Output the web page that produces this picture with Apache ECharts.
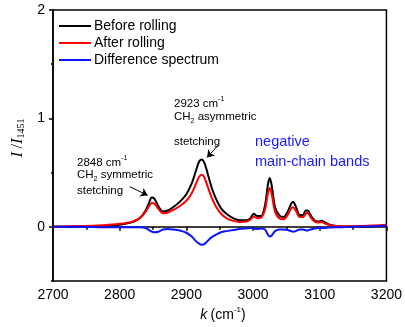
<!DOCTYPE html>
<html>
<head>
<meta charset="utf-8">
<script src="https://cdn.jsdelivr.net/npm/echarts@6/dist/echarts.min.js"></script>
<style>
  html, body { margin: 0; padding: 0; background: #fff; }
  #chart { width: 405px; height: 327px; }
</style>
</head>
<body>
<div id="chart"></div>
<script>
// wavenumber positions (cm-1)
const k = [2700, 2720, 2740, 2760, 2780, 2800, 2810, 2820, 2830, 2838, 2844, 2848, 2852, 2858, 2865, 2872, 2880, 2890, 2900, 2908,
  2914, 2919, 2923, 2927, 2932, 2938, 2945, 2952, 2960, 2970, 2980, 2990, 2996, 3001, 3006, 3012, 3018, 3022, 3025, 3028,
  3033, 3040, 3046, 3052, 3057, 3060, 3064, 3070, 3075, 3079, 3082, 3086, 3092, 3098, 3103, 3108, 3115, 3125, 3140, 3160,
  3180, 3200];

const beforeRolling = [0, 0, 0.003, 0.005, 0.01, 0.02, 0.03, 0.045, 0.08, 0.14, 0.22, 0.27, 0.26, 0.19, 0.14, 0.15, 0.18, 0.23, 0.3, 0.4,
  0.51, 0.6, 0.62, 0.59, 0.49, 0.36, 0.25, 0.17, 0.12, 0.08, 0.06, 0.06, 0.08, 0.12, 0.1, 0.1, 0.2, 0.38, 0.45, 0.38,
  0.18, 0.1, 0.09, 0.14, 0.21, 0.23, 0.19, 0.11, 0.11, 0.15, 0.15, 0.11, 0.06, 0.05, 0.055, 0.04, 0.02, 0.008, 0.003, 0.003,
  0.005, 0.008];

const afterRolling = [0.002, 0.004, 0.007, 0.01, 0.016, 0.028, 0.036, 0.05, 0.08, 0.13, 0.19, 0.22, 0.215, 0.165, 0.125, 0.13, 0.155, 0.19, 0.24, 0.31,
  0.39, 0.46, 0.48, 0.455, 0.37, 0.27, 0.18, 0.12, 0.08, 0.055, 0.045, 0.048, 0.065, 0.095, 0.08, 0.085, 0.16, 0.3, 0.36, 0.3,
  0.14, 0.075, 0.07, 0.11, 0.17, 0.18, 0.15, 0.09, 0.09, 0.12, 0.13, 0.09, 0.05, 0.04, 0.045, 0.03, 0.015, 0.008, 0.005, 0.007,
  0.012, 0.018];

const difference = [0, 0, 0, -0.002, -0.004, -0.005, -0.005, -0.004, -0.004, -0.01, -0.03, -0.045, -0.05, -0.045, -0.025, -0.02, -0.025, -0.035, -0.055, -0.09,
  -0.13, -0.155, -0.165, -0.16, -0.13, -0.095, -0.07, -0.05, -0.04, -0.03, -0.02, -0.015, -0.012, -0.015, -0.02, -0.015, -0.025, -0.07, -0.09, -0.08,
  -0.04, -0.025, -0.025, -0.03, -0.04, -0.045, -0.04, -0.025, -0.025, -0.032, -0.035, -0.025, -0.015, -0.012, -0.012, -0.01, -0.006, -0.004, -0.002, 0.002,
  0.005, 0.01];

const seriesNames = ['Before rolling', 'After rolling', 'Difference spectrum'];
const yMajorRange = [0, 2];   // labelled ticks 0, 1, 2
const yFullRange = [-0.5, 2];

const pair = (ys) => k.map((x, i) => [x, ys[i]]);

const chart = echarts.init(document.getElementById('chart'));

const font = 'Liberation Sans, Arial, sans-serif';
const serif = 'Liberation Serif, Times New Roman, serif';
const black = '#000';

// plot box: top 10, bottom 46 (height 271); value 0 sits 2/2.5 of the way down
const gridTop = 10, gridBottom = 46, plotH = 327 - gridTop - gridBottom;
const zeroBottom = gridBottom + plotH * (0 - yFullRange[0]) / (yFullRange[1] - yFullRange[0]);

const option = {
  animation: false,
  backgroundColor: '#fff',
  grid: [
    { left: 53, right: 17, top: gridTop, bottom: gridBottom,
      show: true, borderColor: black, borderWidth: 1.5, backgroundColor: 'transparent' },
    { left: 53, right: 17, top: gridTop, bottom: zeroBottom, show: false }
  ],
  legend: {
    left: 54, top: 14, orient: 'vertical',
    itemWidth: 32, itemHeight: 14, itemGap: 3,
    textStyle: { fontFamily: font, fontSize: 14, color: black, padding: [0, 0, 0, -2] },
    data: seriesNames.map(n => ({ name: n, icon: 'path://M0,0 L32,0 L32,2 L0,2 Z' }))
  },
  xAxis: [
    {
      type: 'value', min: 2700, max: 3200, interval: 100, gridIndex: 0,
      axisLine: { lineStyle: { color: black, width: 1.5 } },
      axisTick: { show: true, length: 4, lineStyle: { color: black, width: 1.5 } },
      minorTick: { show: true, splitNumber: 2, length: 3, lineStyle: { color: black, width: 1.5 } },
      splitLine: { show: false },
      axisLabel: { fontFamily: font, fontSize: 14, color: black, margin: 7, formatter: v => String(v) }
    },
    { type: 'value', min: 2700, max: 3200, gridIndex: 1, show: false }
  ],
  yAxis: [
    {
      type: 'value', min: yFullRange[0], max: yFullRange[1], interval: 0.5, gridIndex: 0,
      axisLine: { show: true, lineStyle: { color: black, width: 1.5 } },
      axisTick: { show: true, length: 2, lineStyle: { color: black, width: 1.5 } },
      splitLine: { show: false },
      axisLabel: { show: false }
    },
    {
      type: 'value', min: yMajorRange[0], max: yMajorRange[1], interval: 1, gridIndex: 1,
      axisLine: { show: false },
      axisTick: { show: true, length: 4, lineStyle: { color: black, width: 1.5 } },
      splitLine: { show: false },
      axisLabel: { fontFamily: font, fontSize: 14, color: black, margin: 8 }
    }
  ],
  series: [
    {
      name: seriesNames[0], type: 'line', data: pair(beforeRolling), smooth: 0.3,
      symbol: 'none', z: 3,
      lineStyle: { color: black, width: 2 }, itemStyle: { color: black },
      markLine: {
        silent: true, symbol: ['none', 'arrow'], symbolSize: 7,
        label: { show: false },
        lineStyle: { color: black, width: 1, type: 'solid' },
        data: [
          [{ coord: [2815, 0.37] }, { coord: [2842, 0.29] }],
          [{ coord: [2948, 0.755] }, { coord: [2931, 0.64] }]
        ]
      }
    },
    {
      name: seriesNames[1], type: 'line', data: pair(afterRolling), smooth: 0.3,
      symbol: 'none', z: 4,
      lineStyle: { color: '#ff0000', width: 2 }, itemStyle: { color: '#ff0000' }
    },
    {
      name: seriesNames[2], type: 'line', data: pair(difference), smooth: 0.3,
      symbol: 'none', z: 5,
      lineStyle: { color: '#0a14ff', width: 2 }, itemStyle: { color: '#0a14ff' }
    }
  ],
  graphic: [
    {
      type: 'text', x: 17, y: 138, rotation: Math.PI / 2,
      style: {
        text: '{i|I} {n|/}{i|I}{s|1451}',
        align: 'center', verticalAlign: 'middle',
        rich: {
          i: { fontFamily: serif, fontStyle: 'italic', fontSize: 17, color: black, verticalAlign: 'bottom', lineHeight: 18 },
          n: { fontFamily: serif, fontSize: 16, color: black, verticalAlign: 'bottom', lineHeight: 18 },
          s: { fontFamily: serif, fontSize: 10, color: black, verticalAlign: 'bottom', lineHeight: 14 }
        }
      }
    },
    {
      type: 'text', x: 223, y: 314,
      style: {
        text: '{i|k} {n|(cm}{s|-1}{n|)}',
        align: 'center', verticalAlign: 'middle',
        rich: {
          i: { fontFamily: font, fontStyle: 'italic', fontSize: 14, color: black, verticalAlign: 'bottom', lineHeight: 16 },
          n: { fontFamily: font, fontSize: 14, color: black, verticalAlign: 'bottom', lineHeight: 16 },
          s: { fontFamily: font, fontSize: 8, color: black, verticalAlign: 'top', lineHeight: 10 }
        }
      }
    },
    // 2848 annotation
    {
      type: 'text', x: 77, y: 162,
      style: {
        text: '{n|2848 cm}{s|-1}', align: 'left', verticalAlign: 'middle',
        rich: {
          n: { fontFamily: font, fontSize: 11.5, color: black, verticalAlign: 'bottom', lineHeight: 14 },
          s: { fontFamily: font, fontSize: 7, color: black, verticalAlign: 'top', lineHeight: 8 }
        }
      }
    },
    {
      type: 'text', x: 77, y: 176,
      style: {
        text: '{n|CH}{b|2}{n| symmetric}', align: 'left', verticalAlign: 'middle',
        rich: {
          n: { fontFamily: font, fontSize: 11.5, color: black, verticalAlign: 'top', lineHeight: 14 },
          b: { fontFamily: font, fontSize: 7, color: black, verticalAlign: 'bottom', lineHeight: 8 }
        }
      }
    },
    {
      type: 'text', x: 77, y: 191, style: { text: 'stetching', fontFamily: font, fontSize: 11.5, fill: black, align: 'left', verticalAlign: 'middle' }
    },
    // 2923 annotation
    {
      type: 'text', x: 174, y: 103,
      style: {
        text: '{n|2923 cm}{s|-1}', align: 'left', verticalAlign: 'middle',
        rich: {
          n: { fontFamily: font, fontSize: 11.5, color: black, verticalAlign: 'bottom', lineHeight: 14 },
          s: { fontFamily: font, fontSize: 7, color: black, verticalAlign: 'top', lineHeight: 8 }
        }
      }
    },
    {
      type: 'text', x: 174, y: 118,
      style: {
        text: '{n|CH}{b|2}{n| asymmetric}', align: 'left', verticalAlign: 'middle',
        rich: {
          n: { fontFamily: font, fontSize: 11.5, color: black, verticalAlign: 'top', lineHeight: 14 },
          b: { fontFamily: font, fontSize: 7, color: black, verticalAlign: 'bottom', lineHeight: 8 }
        }
      }
    },
    {
      type: 'text', x: 174, y: 142, style: { text: 'stetching', fontFamily: font, fontSize: 11.5, fill: black, align: 'left', verticalAlign: 'middle' }
    },
    {
      type: 'text', x: 255, y: 142, style: { text: 'negative', fontFamily: font, fontSize: 14.5, fill: '#1a1aff', align: 'left', verticalAlign: 'middle' }
    },
    {
      type: 'text', x: 255, y: 162, style: { text: 'main-chain bands', fontFamily: font, fontSize: 14.5, fill: '#1a1aff', align: 'left', verticalAlign: 'middle' }
    }
  ]
};

chart.setOption(option);
</script>
</body>
</html>
